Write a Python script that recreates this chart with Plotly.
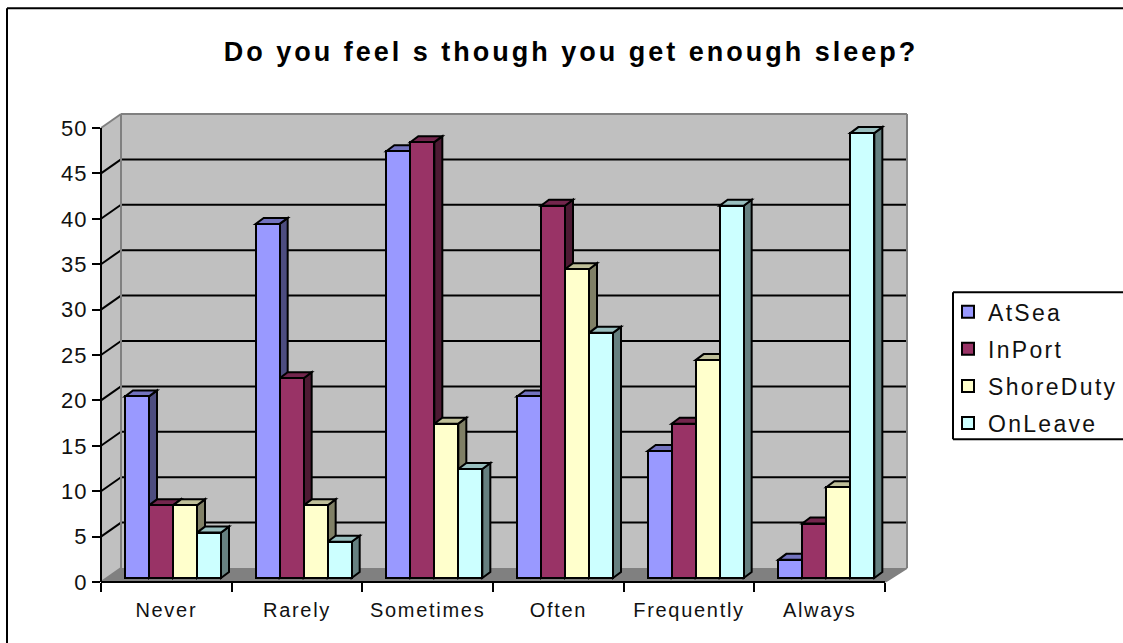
import plotly.graph_objects as go

# ---- data ----
categories = ["Never", "Rarely", "Sometimes", "Often", "Frequently", "Always"]
at_sea = [20, 39, 47, 20, 14, 2]
in_port = [8, 22, 48, 41, 17, 6]
shore_duty = [8, 8, 17, 34, 24, 10]
on_leave = [5, 4, 12, 27, 41, 49]
y_ticks = [0, 5, 10, 15, 20, 25, 30, 35, 40, 45, 50]
title_text = "Do you feel s though you get enough sleep?"

series = [
    ("AtSea", at_sea, "#9999FF", "#7373BF", "#4D4D80"),
    ("InPort", in_port, "#993366", "#73264D", "#4D1A33"),
    ("ShoreDuty", shore_duty, "#FFFFCC", "#BFBF99", "#808066"),
    ("OnLeave", on_leave, "#CCFFFF", "#99BFBF", "#668080"),
]

# ---- layout geometry (pixels in the 1123x643 page) ----
W, H = 1123, 643
AX_L, AX_R, AX_TOP, AX_BOT = 101.0, 885.0, 127.7, 581.7   # front plane
WALL_L, WALL_R, WALL_DY = 121.0, 907.0, 14.0              # back wall
BAR_OFF_DY = 4.0                                          # front of bars behind front plane
BAR_DX, BAR_DY = 8.0, 6.0                                 # depth of a bar
BAR_PX = 24.0

px_cat = (AX_R - AX_L) / len(categories)
px_val = (AX_BOT - AX_TOP) / max(y_ticks)
PLOT_L, PLOT_R, PLOT_T, PLOT_B = AX_L, WALL_R, AX_TOP - WALL_DY, AX_BOT
x0 = -0.5
x_range = [x0, x0 + (PLOT_R - PLOT_L) / px_cat]
y_range = [0, (PLOT_B - PLOT_T) / px_val]
bar_w = BAR_PX / px_cat
dx_cat, dy_val = BAR_DX / px_cat, BAR_DY / px_val
base = BAR_OFF_DY / px_val


def pxx(x):  # page pixel -> paper
    return (x - PLOT_L) / (PLOT_R - PLOT_L)


def pxy(y):
    return (PLOT_B - y) / (PLOT_B - PLOT_T)


def poly(points):
    return "M" + "L".join(f"{pxx(a):.5f},{pxy(b):.5f}" for a, b in points) + "Z"


def seg(a, b, c, d, color="#000000", width=2):
    return dict(type="line", xref="paper", yref="paper", layer="below",
                x0=pxx(a), y0=pxy(b), x1=pxx(c), y1=pxy(d),
                line=dict(color=color, width=width))


def fill(points, color):
    return dict(type="path", xref="paper", yref="paper", layer="below",
                path=poly(points), fillcolor=color, line=dict(color=color, width=0))


BL, BR, BT, BB = WALL_L, WALL_R, AX_TOP - WALL_DY, AX_BOT - WALL_DY
shapes = [
    fill([(BL, BT), (BR, BT), (BR, BB), (BL, BB)], "#C0C0C0"),
    fill([(AX_L, AX_TOP), (BL, BT), (BL, BB), (AX_L, AX_BOT)], "#C0C0C0"),
    fill([(AX_L, AX_BOT), (AX_R, AX_BOT), (BR, BB), (BL, BB)], "#808080"),
]
for v in y_ticks[1:-1]:
    yy = AX_BOT - v * px_val
    shapes.append(seg(AX_L, yy, BL, yy - WALL_DY))
    shapes.append(seg(BL, yy - WALL_DY, BR, yy - WALL_DY))
for a, b, c, d in [(AX_L, AX_TOP, BL, BT), (BL, BT, BR, BT), (BR, BT, BR, BB),
                   (BL, BT, BL, BB), (AX_L, AX_BOT, BL, BB), (AX_R, AX_BOT, BR, BB)]:
    shapes.append(seg(a, b, c, d, "#808080", 2))
shapes.append(seg(AX_L, AX_TOP, AX_L, AX_BOT))
shapes.append(seg(AX_L, AX_BOT, AX_R, AX_BOT))

# depth faces of every bar, derived from the data, painted left to right
for c in range(len(categories)):
    for s, (_, vals, _, top, side) in enumerate(series):
        xa = c + x0 + (s + 1) * bar_w
        xb = xa + bar_w
        yt = base + vals[c]
        path_side = [(xb, base), (xb + dx_cat, base + dy_val), (xb + dx_cat, yt + dy_val), (xb, yt)]
        path_top = [(xa, yt), (xb, yt), (xb + dx_cat, yt + dy_val), (xa + dx_cat, yt + dy_val)]
        for pts, col in ((path_side, side), (path_top, top)):
            shapes.append(dict(type="path", xref="x", yref="y", layer="below",
                               path="M" + "L".join(f"{a:.5f},{b:.5f}" for a, b in pts) + "Z",
                               fillcolor=col, line=dict(color="#000000", width=2)))

# chart frame and legend box (both run off the right edge of the page)
shapes += [seg(7, 8, W + 5, 8), seg(7, 8, 7, H + 5),
           seg(953, 292, W + 5, 292), seg(953, 292, 953, 439), seg(953, 439, W + 5, 439)]

fig = go.Figure()
for s, (name, vals, front, _, _) in enumerate(series):
    fig.add_trace(go.Bar(
        name=name, x=categories, y=vals, base=base, width=bar_w,
        offset=x0 + (s + 1) * bar_w, legendgroup=name,
        marker=dict(color=front, line=dict(color="#000000", width=2)),
    ))

FONT = "Liberation Sans, Arial, sans-serif"
fig.update_layout(
    width=W, height=H, autosize=False,
    margin=dict(l=PLOT_L, r=W - PLOT_R, t=PLOT_T, b=H - PLOT_B, pad=0, autoexpand=False),
    paper_bgcolor="#FFFFFF", plot_bgcolor="rgba(0,0,0,0)",
    barmode="overlay", bargap=0, shapes=shapes, hovermode=False,
    font=dict(family=FONT, color="#000000"),
    title=dict(text=f"<b>{title_text}</b>", x=pxx(571), xanchor="center", xref="paper",
               y=1 - 52 / H, yanchor="middle", yref="container",
               font=dict(family=FONT, size=27, color="#000000")),
    xaxis=dict(type="category", categoryorder="array", categoryarray=categories,
               range=x_range, autorange=False, tickson="boundaries",
               ticks="outside", ticklen=9, tickwidth=2, tickcolor="#000000",
               tickangle=0, showgrid=False, zeroline=False, showline=False,
               ticklabelstandoff=14,
               tickfont=dict(family=FONT, size=20, color="#111111")),
    yaxis=dict(range=y_range, autorange=False, tickmode="array", tickvals=y_ticks,
               ticks="outside", ticklen=8, tickwidth=2, tickcolor="#000000",
               showgrid=False, zeroline=False, showline=False,
               tickfont=dict(family=FONT, size=22, color="#111111")),
    legend=dict(x=pxx(948), xanchor="left", y=pxy(290), yanchor="top",
                borderwidth=0, bgcolor="rgba(255,255,255,0)", tracegroupgap=4.2,
                traceorder="grouped",
                font=dict(family=FONT, size=23, color="#111111")),
)

css = ("body{margin:0!important;overflow:hidden}"
       ".gtitle{letter-spacing:3px}"
       ".xtick text{letter-spacing:1.7px}"
       ".ytick text{letter-spacing:1px}"
       ".legendtext{letter-spacing:2.3px}"
       ".legend .scrollbox{clip-path:none!important}"
       ".legendbar path{transform:translate(8px,-3px) scale(1.35,1.05)}")
post = f"var s=document.createElement('style');s.textContent='{css}';document.head.appendChild(s);"
fig.write_html("out.html", post_script=post, config=dict(displayModeBar=False))
